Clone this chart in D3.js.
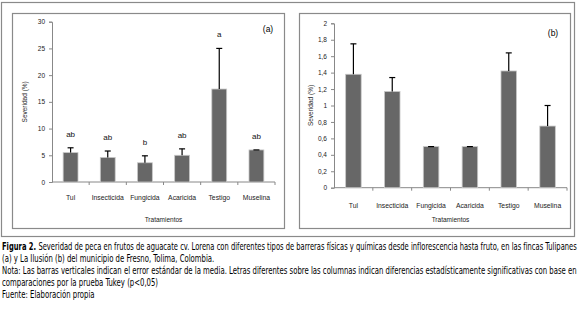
<!DOCTYPE html>
<html lang="es">
<head>
<meta charset="utf-8"/>
<title>Figura 2 - Severidad de peca</title>
<script src="https://d3js.org/d3.v7.min.js"></script>
<style>
  body { margin: 0; background: #fff; }
</style>
</head>
<body>
<script>
// data
var categories = ["Tul", "Insecticida", "Fungicida", "Acaricida", "Testigo", "Muselina"];

// panel (a) Tulipanes
var meanA  = [5.5, 4.6, 3.6, 5.0, 17.4, 6.0];
var errTopA = [6.4, 5.8, 4.9, 6.2, 25.0, 6.0];
var lettersA = ["ab", "ab", "b", "ab", "a", "ab"];
var ticksA = [0, 5, 10, 15, 20, 25, 30];

// panel (b) La Ilusion
var meanB  = [1.38, 1.17, 0.5, 0.5, 1.42, 0.75];
var errTopB = [1.75, 1.34, 0.5, 0.5, 1.64, 1.0];
var ticksB = [0, 0.2, 0.4, 0.6, 0.8, 1, 1.2, 1.4, 1.6, 1.8, 2];

var captionLines = [
  "Severidad de peca en frutos de aguacate cv. Lorena con diferentes tipos de barreras físicas y químicas desde inflorescencia hasta fruto, en las fincas Tulipanes",
  "(a) y La Ilusión (b) del municipio de Fresno, Tolima, Colombia.",
  "Nota: Las barras verticales indican el error estándar de la media. Letras diferentes sobre las columnas indican diferencias estadísticamente significativas con base en",
  "comparaciones por la prueba Tukey (p<0,05)",
  "Fuente: Elaboración propia"
];

var w = 579, h = 322;
var frameColor = "#8a8a8a";
var labelFont = "'Liberation Sans', Arial, sans-serif";

var svg = d3.select("body").append("svg")
  .attr("width", w).attr("height", h);

// outer frame
svg.append("rect")
  .attr("x", 1.5).attr("y", 2.5).attr("width", 573).attr("height", 234)
  .attr("fill", "none").attr("stroke", frameColor).attr("stroke-width", 1.2);

function panel(opts) {
  var g = svg.append("g");

  g.append("rect")
    .attr("x", opts.box[0] + 0.5).attr("y", opts.box[1] + 0.5)
    .attr("width", opts.box[2] - opts.box[0]).attr("height", opts.box[3] - opts.box[1])
    .attr("fill", "none").attr("stroke", frameColor).attr("stroke-width", 1.2);

  var x = d3.scaleBand().domain(categories)
    .range([opts.left, opts.right]);
  var y = d3.scaleLinear().domain(opts.domain)
    .range([opts.bottom, opts.top]);

  // y axis
  var yAxis = g.append("g")
    .attr("transform", "translate(" + opts.left + ",0)")
    .call(d3.axisLeft(y).tickValues(opts.ticks).tickSize(3).tickPadding(4)
      .tickFormat(function(d) { return String(d).replace(".", ","); }));
  yAxis.select(".domain").attr("stroke", "#888");
  yAxis.selectAll(".tick line").attr("stroke", "#888");
  yAxis.selectAll("text").attr("font-family", labelFont).attr("font-size", 6.5).attr("fill", "#222");

  // x axis with ticks at band boundaries
  var xg = g.append("g").attr("transform", "translate(0," + opts.bottom + ")");
  xg.append("line").attr("x1", opts.left).attr("x2", opts.right)
    .attr("stroke", "#888");
  var bounds = categories.map(function(c) { return x(c) + x.bandwidth(); });
  xg.selectAll("line.tk").data(bounds).enter().append("line")
    .attr("class", "tk")
    .attr("x1", function(d) { return d; }).attr("x2", function(d) { return d; })
    .attr("y1", 0).attr("y2", 3).attr("stroke", "#888");
  g.selectAll("text.cat").data(categories).enter().append("text")
    .attr("class", "cat")
    .attr("x", function(d) { return x(d) + x.bandwidth() / 2; })
    .attr("y", opts.catY)
    .attr("text-anchor", "middle")
    .attr("font-family", labelFont).attr("font-size", 6.8).attr("fill", "#222")
    .text(function(d) { return d; });

  // axis titles
  g.append("text")
    .attr("x", (opts.left + opts.right) / 2).attr("y", 222)
    .attr("text-anchor", "middle")
    .attr("font-family", labelFont).attr("font-size", 6.5).attr("fill", "#222")
    .text("Tratamientos");
  g.append("text")
    .attr("transform", "translate(" + opts.yTitleX + "," + (opts.top + opts.bottom) / 2 + ") rotate(-90)")
    .attr("text-anchor", "middle")
    .attr("font-family", labelFont).attr("font-size", 6.5).attr("fill", "#222")
    .text("Severidad (%)");

  // bars
  var bw = x.bandwidth() * 0.4;
  g.selectAll("rect.bar").data(opts.mean).enter().append("rect")
    .attr("class", "bar")
    .attr("x", function(d, i) { return x(categories[i]) + (x.bandwidth() - bw) / 2; })
    .attr("y", function(d) { return y(d); })
    .attr("width", bw)
    .attr("height", function(d) { return opts.bottom - y(d); })
    .attr("fill", "#676767").attr("stroke", "#c8c8c8").attr("stroke-width", 0.8);

  // error bars (upper only)
  opts.errTop.forEach(function(e, i) {
    var cx = x(categories[i]) + x.bandwidth() / 2;
    g.append("line").attr("x1", cx).attr("x2", cx)
      .attr("y1", y(opts.mean[i])).attr("y2", y(e))
      .attr("stroke", "#000").attr("stroke-width", 1.2);
    g.append("line").attr("x1", cx - 3).attr("x2", cx + 3)
      .attr("y1", y(e)).attr("y2", y(e))
      .attr("stroke", "#000").attr("stroke-width", 1.2);
  });

  // significance letters
  if (opts.letters) {
    g.selectAll("text.let").data(opts.letters).enter().append("text")
      .attr("class", "let")
      .attr("x", function(d, i) { return x(categories[i]) + x.bandwidth() / 2; })
      .attr("y", function(d, i) { return y(opts.errTop[i]) - 11; })
      .attr("text-anchor", "middle")
      .attr("font-family", labelFont).attr("font-size", 8).attr("fill", "#111")
      .text(function(d) { return d; });
  }

  // panel tag
  g.append("text")
    .attr("x", opts.tag[0]).attr("y", opts.tag[1])
    .attr("text-anchor", "middle")
    .attr("font-family", labelFont).attr("font-size", 8.5).attr("fill", "#000")
    .text(opts.tagText);
}

panel({
  box: [12, 13, 284, 228],
  left: 52, right: 275, top: 21.7, bottom: 182,
  domain: [0, 30], ticks: ticksA,
  mean: meanA, errTop: errTopA, letters: lettersA,
  catY: 200, yTitleX: 27,
  tag: [268, 32], tagText: "(a)"
});

panel({
  box: [299, 13, 570, 228],
  left: 334, right: 567, top: 23.3, bottom: 187.7,
  domain: [0, 2], ticks: ticksB,
  mean: meanB, errTop: errTopB, letters: null,
  catY: 207.5, yTitleX: 313,
  tag: [553, 36], tagText: "(b)"
});

// caption: condensed text, squeezed horizontally so the "Nota" line fills the width
var capFont = "'DejaVu Sans Condensed', 'DejaVu Sans', sans-serif";
var capY = [250, 262, 274, 286, 298];
var capSize = 9.8;

var cap = svg.append("g");
var lines = [];
var first = cap.append("text")
  .attr("x", 0).attr("y", capY[0])
  .attr("font-family", capFont).attr("font-size", capSize).attr("fill", "#000");
first.append("tspan").attr("font-weight", "bold").text("Figura 2. ");
first.append("tspan").text(captionLines[0]);
lines.push(first);

captionLines.slice(1).forEach(function(line, i) {
  lines.push(cap.append("text")
    .attr("x", 0).attr("y", capY[i + 1])
    .attr("font-family", capFont).attr("font-size", capSize).attr("fill", "#000")
    .text(line));
});

var sx = 575 / lines[2].node().getComputedTextLength();
lines.forEach(function(t) {
  t.attr("transform", "translate(2,0) scale(" + sx + ",1)");
});
// first line stretches to the full width as well
var firstLen = first.node().getComputedTextLength();
first.attr("transform", "translate(2,0) scale(" + (575 / firstLen) + ",1)");
</script>
</body>
</html>
